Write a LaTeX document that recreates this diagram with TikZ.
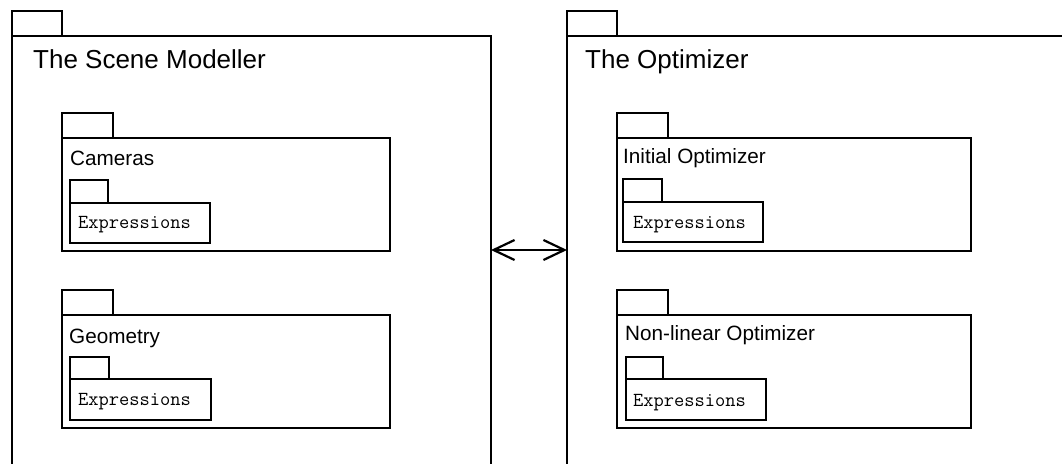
\documentclass[tikz,border=0pt]{standalone}
\usepackage{fontspec}
\setmainfont{Liberation Sans}
\usetikzlibrary{arrows.meta}

\tikzset{
  body/.style={draw, line width=2.2pt, inner sep=0pt, outer sep=0pt, anchor=north west},
  tab/.style={draw, line width=2.2pt, inner sep=0pt, outer sep=0pt, anchor=south west},
  bigtitle/.style={inner sep=0pt, anchor=base west, font=\fontsize{26}{30}\selectfont},
  subtitle/.style={inner sep=0pt, anchor=base west, font=\fontsize{20.7}{24}\selectfont},
  codelabel/.style={inner sep=0pt, anchor=base west, font=\ttfamily\fontsize{19.9}{22}\selectfont},
  barb/.tip={Straight Barb[length=21pt,width=20pt]},
  link/.style={line width=2.2pt, barb-barb}
}

% package symbol: body rectangle with a small tab on its upper left corner
% #1 name, #2 x, #3 y (top), #4 width, #5 height, #6 tab width, #7 tab height
\newcommand{\umlpkg}[7]{%
  \node[body, minimum width=#4pt, minimum height=#5pt] (#1) at (#2,#3) {};
  \node[tab, minimum width=#6pt, minimum height=#7pt] (#1-tab) at (#1.north west) {};
}

\begin{document}
\begin{tikzpicture}[x=1pt, y=-1pt]
  \useasboundingbox (0,0) rectangle (1062,463);
  \clip (0,0) rectangle (1062,463);
  \fill[white] (0,0) rectangle (1062,463);

  % outer packages
  \umlpkg{scene}{12}{36}{479}{440}{50}{25}
  \umlpkg{opt}{567}{36}{510}{440}{50}{25}
  \node[bigtitle] (sceneTitle) at (33,68) {The Scene Modeller};
  \node[bigtitle] (optTitle) at (585,68) {The Optimizer};

  % scene modeller contents
  \umlpkg{cam}{62}{138}{328}{113}{51}{25}
  \node[subtitle] (camTitle) at (70,165) {Cameras};
  \umlpkg{camExpr}{70}{203}{140}{40}{38}{23}
  \node[codelabel] (camExprLabel) at (78,228) {Expressions};

  \umlpkg{geo}{62}{315}{328}{113}{51}{25}
  \node[subtitle] (geoTitle) at (69,343) {Geometry};
  \umlpkg{geoExpr}{70}{379}{141}{41}{39}{22}
  \node[codelabel] (geoExprLabel) at (78,405) {Expressions};

  % optimizer contents
  \umlpkg{init}{617}{138}{354}{113}{51}{25}
  \node[subtitle] (initTitle) at (623,163) {Initial Optimizer};
  \umlpkg{initExpr}{623}{202}{140}{40}{39}{23}
  \node[codelabel] (initExprLabel) at (633,228) {Expressions};

  \umlpkg{nl}{617}{315}{354}{113}{51}{25}
  \node[subtitle] (nlTitle) at (625,340) {Non-linear Optimizer};
  \umlpkg{nlExpr}{626}{379}{140}{41}{37}{22}
  \node[codelabel] (nlExprLabel) at (633,406) {Expressions};

  % dependency between the two packages
  \draw[link] (scene.east |- 0,250) -- (opt.west |- 0,250);
\end{tikzpicture}
\end{document}
